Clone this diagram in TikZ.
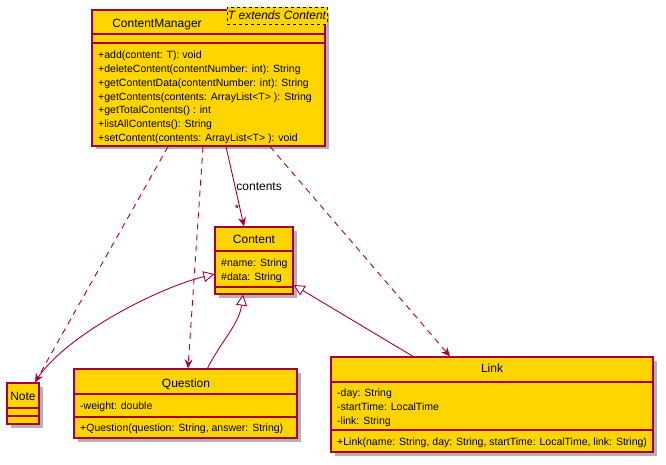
\documentclass[tikz,border=0pt]{standalone}
\usepackage{fontspec}
\setmainfont{Liberation Sans}
\usepackage{tikz}
\usetikzlibrary{arrows.meta,shadows}

\definecolor{umlgold}{HTML}{FED500}
\definecolor{umlred}{HTML}{A80036}

\tikzset{
	umlbox/.style={draw=umlred, fill=umlgold, line width=1.2pt, inner sep=0pt,
		drop shadow={shadow xshift=3.5pt, shadow yshift=-3.5pt, fill=black, opacity=0.3}},
	sepline/.style={draw=umlred, line width=1.2pt},
	title/.style={anchor=base, inner sep=0pt, font=\fontsize{12}{14}\selectfont},
	member/.style={anchor=base west, inner sep=0pt, font=\fontsize{10.5}{13}\selectfont},
	depend/.style={draw=umlred, line width=0.9pt, dash pattern=on 6pt off 5pt,
		-{Stealth[length=9pt, width=8pt, inset=3pt]}},
	assoc/.style={draw=umlred, line width=0.9pt, -{Stealth[length=9pt, width=8pt, inset=3pt]}},
	inherit/.style={draw=umlred, line width=0.9pt, -{Triangle[open, length=11pt, width=11pt, fill=white]}}
}

\begin{document}
\begin{tikzpicture}[x=1pt, y=-1pt]
	\useasboundingbox (0,0) rectangle (666,465);
	%\draw[help lines] (0,0) grid[step=50] (666,465);

	% classes
	\node[umlbox, minimum width=233pt, minimum height=136pt] (cm) at (208.5,78) {};
	\node[umlbox, minimum width=78pt, minimum height=67pt] (content) at (254,260.5) {};
	\node[umlbox, minimum width=32pt, minimum height=41pt] (note) at (23,403.5) {};
	\node[umlbox, minimum width=223pt, minimum height=69pt] (question) at (185.5,403.5) {};
	\node[umlbox, minimum width=322pt, minimum height=95pt] (link) at (492,404.5) {};

	% compartments
	\draw[sepline] (92,34)--(325,34);
	\draw[sepline] (92,43)--(325,43);
	\draw[sepline] (215,251)--(293,251);
	\draw[sepline] (215,287)--(293,287);
	\draw[sepline] (7,408)--(39,408);
	\draw[sepline] (7,416)--(39,416);
	\draw[sepline] (74,394)--(297,394);
	\draw[sepline] (74,417)--(297,417);
	\draw[sepline] (331,382)--(653,382);
	\draw[sepline] (331,430)--(653,430);

	% ContentManager
	\node[title] (cm-name) at (157,27.3) {ContentManager};
	\node[draw, dashed, fill=umlgold, inner sep=0pt, minimum width=100pt, minimum height=17pt,
		font=\fontsize{12}{14}\selectfont\itshape] (cm-param) at (277,15.5) {T extends Content};
	\node[member] (cm-m1) at (98,58.7) {+add(content: T): void};
	\node[member] (cm-m2) at (98,72.5) {+deleteContent(contentNumber: int): String};
	\node[member] (cm-m3) at (98,86.3) {+getContentData(contentNumber: int): String};
	\node[member] (cm-m4) at (98,100.1) {+getContents(contents: ArrayList<T> ): String};
	\node[member] (cm-m5) at (98,113.9) {+getTotalContents() : int};
	\node[member] (cm-m6) at (98,127.7) {+listAllContents(): String};
	\node[member] (cm-m7) at (98,141.5) {+setContent(contents: ArrayList<T> ): void};

	% Content
	\node[title] (content-name) at (254,243.3) {Content};
	\node[member] (content-a1) at (221,266.7) {\#name: String};
	\node[member] (content-a2) at (221,280.7) {\#data: String};

	% Note
	\node[title] (note-name) at (23,400.3) {Note};

	% Question
	\node[title] (question-name) at (186,387.3) {Question};
	\node[member] (question-a1) at (80,409.7) {-weight: double};
	\node[member] (question-m1) at (80,431.7) {+Question(question: String, answer: String)};

	% Link
	\node[title] (link-name) at (492,372.3) {Link};
	\node[member] (link-a1) at (337,396.7) {-day: String};
	\node[member] (link-a2) at (337,410.5) {-startTime: LocalTime};
	\node[member] (link-a3) at (337,424) {-link: String};
	\node[member] (link-m1) at (337,445.7) {+Link(name: String, day: String, startTime: LocalTime, link: String)};

	% relations
	\draw[depend] ([xshift=-40.5pt]cm.south) -- ([xshift=12pt]note.north);
	\draw[depend] ([xshift=-5.5pt]cm.south) -- ([xshift=2.5pt]question.north);
	\draw[depend] ([xshift=61.5pt]cm.south) -- ([xshift=-42pt]link.north);
	\draw[assoc] ([xshift=17.5pt]cm.south) -- node[pos=0.5, anchor=west, inner sep=1pt, font=\fontsize{12}{14}\selectfont] (assoc-label) {contents}
		node[pos=0.78, anchor=east, inner sep=0.5pt, font=\fontsize{11}{13}\selectfont] (assoc-mult) {*} ([xshift=-10pt]content.north);
	\draw[inherit] ([xshift=12pt]note.north) .. controls +(25,-44) and +(-60,15) .. ([yshift=-13.5pt]content.west);
	\draw[inherit] ([xshift=22pt]question.north) .. controls +(12,-25) and +(-4,30) .. ([xshift=-11pt]content.south);
	\draw[inherit] ([xshift=-79pt]link.north) -- ([yshift=-24.5pt]content.east);
\end{tikzpicture}
\end{document}
